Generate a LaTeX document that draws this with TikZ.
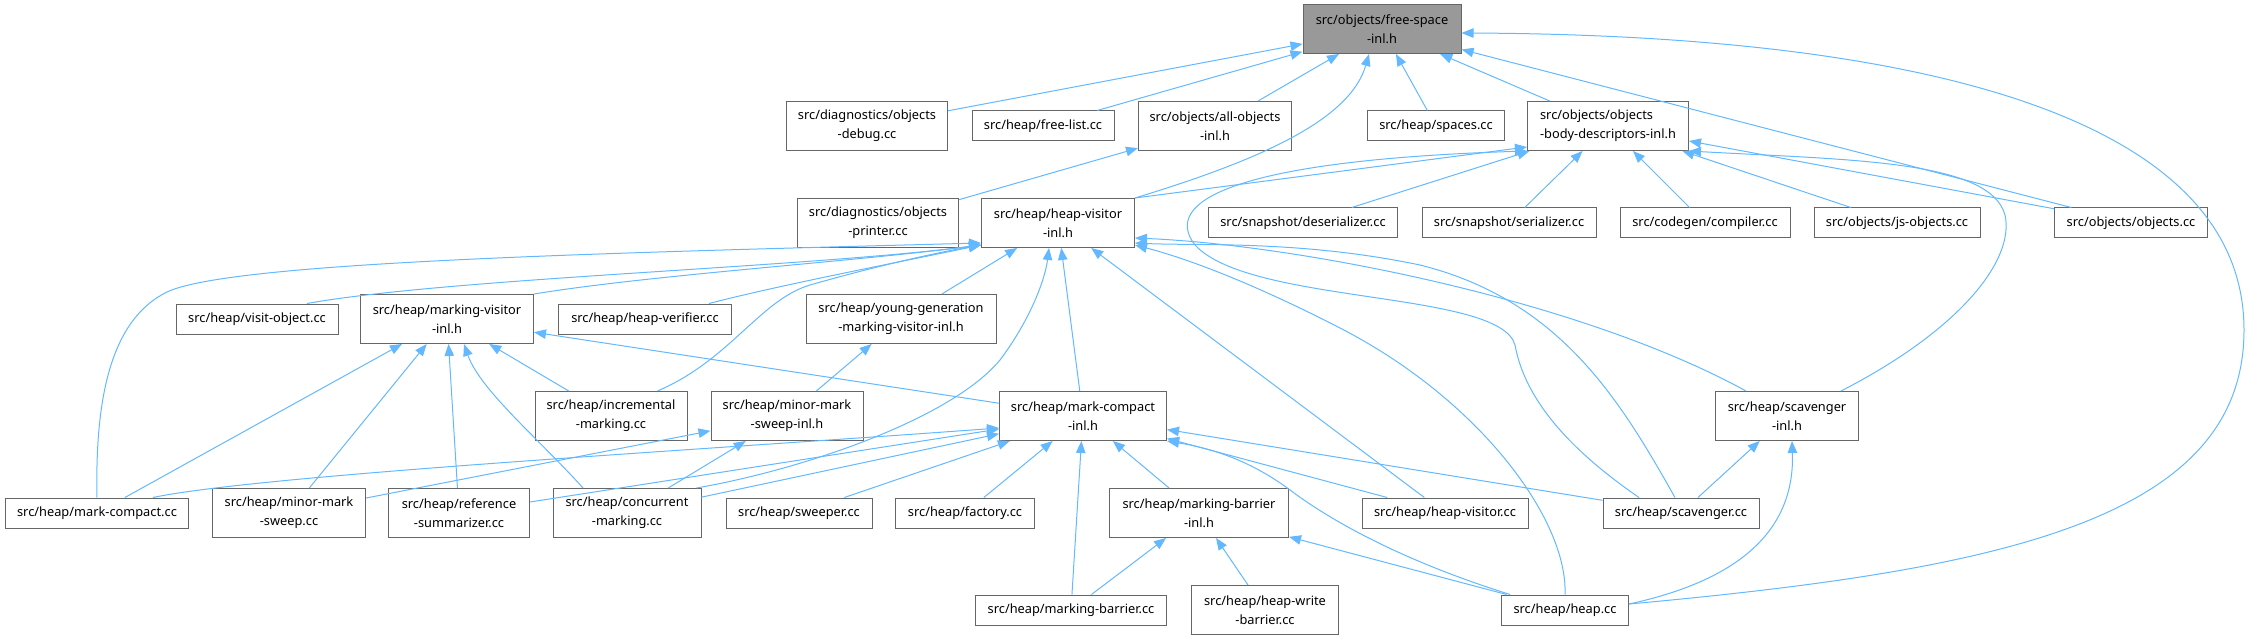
\documentclass[tikz,border=0pt]{standalone}
\usepackage{fontspec}
\setmainfont{Noto Sans}
\usetikzlibrary{arrows.meta}
\definecolor{edgeblue}{HTML}{63B8FF}
\definecolor{boxline}{HTML}{666666}
\definecolor{rootfill}{HTML}{999999}
\tikzset{
  inclarr/.style={-{Triangle[length=12pt,width=9.5pt]},line width=1pt,color=edgeblue},
  filenode/.style={draw=boxline,fill=white,line width=1pt,inner sep=0pt,align=center,font=\fontsize{12.8}{19}\selectfont},
  onerow/.style={filenode,minimum height=30pt},
  tworow/.style={filenode,minimum height=49pt},
  rootnode/.style={tworow,fill=rootfill}
}
\begin{document}
\begin{tikzpicture}[x=1pt,y=-1pt]
  \useasboundingbox (0,0) rectangle (2249,639);

  \node[rootnode,minimum width=158pt] (fs) at (1382,29) {src/objects/free-space\\-inl.h};

  \node[tworow,minimum width=161pt] (dbg) at (867,126) {src/diagnostics/objects\\-debug.cc};
  \node[onerow,minimum width=142pt] (fl) at (1043,126) {src/heap/free-list.cc};
  \node[tworow,minimum width=153pt] (allo) at (1215,126) {src/objects/all-objects\\-inl.h};
  \node[onerow,minimum width=137pt] (spc) at (1436,126) {src/heap/spaces.cc};
  \node[tworow,minimum width=161pt,align=left] (obd) at (1608,126) {src/objects/objects\\-body-descriptors-inl.h};

  \node[tworow,minimum width=161pt] (prn) at (878,223) {src/diagnostics/objects\\-printer.cc};
  \node[tworow,minimum width=153pt] (hvi) at (1058,223) {src/heap/heap-visitor\\-inl.h};
  \node[onerow,minimum width=189pt] (des) at (1303,223) {src/snapshot/deserializer.cc};
  \node[onerow,minimum width=174pt] (ser) at (1509,223) {src/snapshot/serializer.cc};
  \node[onerow,minimum width=170pt] (cmp) at (1705,223) {src/codegen/compiler.cc};
  \node[onerow,minimum width=166pt] (jso) at (1897,223) {src/objects/js-objects.cc};
  \node[onerow,minimum width=153pt] (obj) at (2131,223) {src/objects/objects.cc};

  \node[onerow,minimum width=162pt] (vis) at (257,319) {src/heap/visit-object.cc};
  \node[tworow,minimum width=173pt] (mvi) at (447,319) {src/heap/marking-visitor\\-inl.h};
  \node[onerow,minimum width=173pt] (ver) at (645,319) {src/heap/heap-verifier.cc};
  \node[tworow,minimum width=190pt] (ygm) at (901,319) {src/heap/young-generation\\-marking-visitor-inl.h};

  \node[tworow,minimum width=152pt] (inc) at (611,416) {src/heap/incremental\\-marking.cc};
  \node[tworow,minimum width=152pt] (mmsi) at (787,416) {src/heap/minor-mark\\-sweep-inl.h};
  \node[tworow,minimum width=167pt] (mci) at (1083,416) {src/heap/mark-compact\\-inl.h};
  \node[tworow,minimum width=143pt] (svi) at (1787,416) {src/heap/scavenger\\-inl.h};

  \node[onerow,minimum width=183pt] (mcc) at (97,513) {src/heap/mark-compact.cc};
  \node[tworow,minimum width=153pt] (mms) at (289,513) {src/heap/minor-mark\\-sweep.cc};
  \node[tworow,minimum width=141pt] (ref) at (459,513) {src/heap/reference\\-summarizer.cc};
  \node[tworow,minimum width=148pt] (con) at (627,513) {src/heap/concurrent\\-marking.cc};
  \node[onerow,minimum width=146pt] (swp) at (799,513) {src/heap/sweeper.cc};
  \node[onerow,minimum width=139pt] (fac) at (965,513) {src/heap/factory.cc};
  \node[tworow,minimum width=179pt] (mbi) at (1199,513) {src/heap/marking-barrier\\-inl.h};
  \node[onerow,minimum width=166pt] (hvc) at (1445,513) {src/heap/heap-visitor.cc};
  \node[onerow,minimum width=156pt] (scc) at (1681,513) {src/heap/scavenger.cc};

  \node[onerow,minimum width=191pt] (mbc) at (1071,610) {src/heap/marking-barrier.cc};
  \node[tworow,minimum width=147pt] (hwb) at (1265,610) {src/heap/heap-write\\-barrier.cc};
  \node[onerow,minimum width=127pt] (hcc) at (1565,610) {src/heap/heap.cc};

  \draw[inclarr] (dbg) -- (fs); \draw[inclarr] (fl) -- (fs); \draw[inclarr] (allo) -- (fs);
  \draw[inclarr] (spc) -- (fs); \draw[inclarr] (obd) -- (fs); \draw[inclarr] (obj) -- (fs);
  \draw[inclarr] (hvi.north east) .. controls (1260,160) and (1350,120) .. ([xshift=-13pt]fs.south);
  \draw[inclarr] ([yshift=6pt]hcc.east) .. controls (2000,570) and (2244,520) .. (2244,330)
    .. controls (2244,110) and (1900,35) .. ([yshift=-4pt]fs.east);

  \draw[inclarr] (prn) -- (allo);
  \draw[inclarr] (hvi.north east) -- ([yshift=4pt]obd.south west);
  \draw[inclarr] (des) -- (obd); \draw[inclarr] (ser) -- (obd); \draw[inclarr] (cmp) -- (obd);
  \draw[inclarr] (jso) -- (obd); \draw[inclarr] (obj) -- (obd);
  \draw[inclarr] ([xshift=-18pt]svi.north east) .. controls (1960,330) and (2015,260) .. (2005,215)
    .. controls (1990,160) and (1850,160) .. (obd.south east);
  \draw[inclarr] ([xshift=-42pt]scc.north) .. controls (1570,450) and (1525,400) .. (1515,345)
    .. controls (1500,290) and (1250,305) .. (1195,245) .. controls (1160,200) and (1240,160) .. (obd.south west);

  \draw[inclarr] ([xshift=50pt]vis.north) .. controls (450,278) and (800,268) .. ([yshift=3pt]hvi.south west);
  \draw[inclarr] (mvi.north east) .. controls (650,275) and (850,262) .. ([yshift=3pt]hvi.south west);
  \draw[inclarr] ([xshift=64pt]ver.north) .. controls (780,285) and (900,262) .. ([yshift=3pt]hvi.south west);
  \draw[inclarr] (mcc.north) .. controls (95,400) and (110,320) .. (167,292)
    .. controls (230,262) and (600,253) .. ([yshift=5pt]hvi.south west);
  \draw[inclarr] ([xshift=-30pt]inc.north east) .. controls (730,360) and (760,300) .. (810,285)
    .. controls (880,265) and (940,252) .. ([yshift=3pt]hvi.south west);
  \draw[inclarr] ([xshift=-5pt]con.north east) .. controls (800,470) and (950,420) .. (1000,360)
    .. controls (1030,320) and (1045,280) .. ([xshift=-9pt]hvi.south);
  \draw[inclarr] (ygm) -- (hvi); \draw[inclarr] (mci) -- (hvi); \draw[inclarr] (hvc) -- (hvi);
  \draw[inclarr] ([xshift=-41pt]svi.north) .. controls (1580,300) and (1300,245) .. ([yshift=-15pt]hvi.east);
  \draw[inclarr] ([xshift=-6pt]scc.north) .. controls (1620,400) and (1560,300) .. (1420,265)
    .. controls (1300,240) and (1200,246) .. ([yshift=-20pt]hvi.east);
  \draw[inclarr] (hcc.north) .. controls (1568,520) and (1480,400) .. (1340,328)
    .. controls (1270,292) and (1200,262) .. ([yshift=-22pt]hvi.east);

  \draw[inclarr] (mcc) -- (mvi); \draw[inclarr] (mms) -- (mvi); \draw[inclarr] (ref) -- (mvi);
  \draw[inclarr] (inc) -- (mvi); \draw[inclarr] (mci) -- (mvi);
  \draw[inclarr] ([xshift=-44pt]con.north) .. controls (540,440) and (480,390) .. ([xshift=17pt]mvi.south);

  \draw[inclarr] (mmsi) -- (ygm);
  \draw[inclarr] (mms) -- (mmsi); \draw[inclarr] (con) -- (mmsi);

  \draw[inclarr] ([xshift=56pt]mcc.north) .. controls (260,475) and (700,450) .. ([yshift=-12pt]mci.west);
  \draw[inclarr] (ref) -- (mci); \draw[inclarr] (con) -- (mci); \draw[inclarr] (swp) -- (mci);
  \draw[inclarr] (fac) -- (mci); \draw[inclarr] (mbc) -- (mci); \draw[inclarr] (mbi) -- (mci);
  \draw[inclarr] (hvc) -- (mci); \draw[inclarr] (scc) -- (mci);
  \draw[inclarr] ([xshift=9pt]hcc.north west) .. controls (1400,560) and (1330,520) .. (1290,490)
    .. controls (1250,460) and (1210,448) .. (mci.south east);

  \draw[inclarr] (mbc) -- (mbi); \draw[inclarr] (hwb) -- (mbi); \draw[inclarr] (hcc) -- (mbi);
  \draw[inclarr] (scc) -- (svi);
  \draw[inclarr] ([yshift=6pt]hcc.east) .. controls (1740,580) and (1795,530) .. ([xshift=5pt]svi.south);
\end{tikzpicture}
\end{document}
